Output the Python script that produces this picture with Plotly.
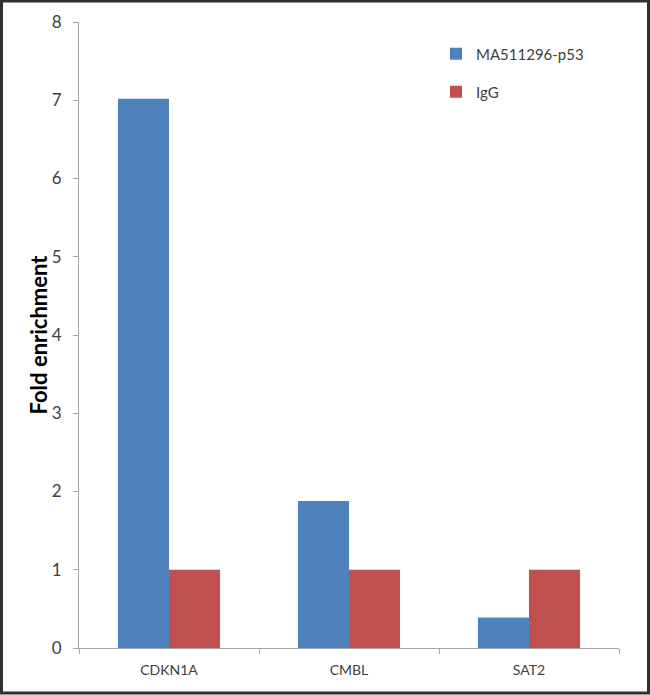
import plotly.graph_objects as go

categories = ["CDKN1A", "CMBL", "SAT2"]
p53_values = [7.02, 1.88, 0.39]
igg_values = [1.0, 1.0, 1.0]
series_names = ["MA511296-p53", "IgG"]
y_ticks = [0, 1, 2, 3, 4, 5, 6, 7, 8]

W, H = 650, 695
L, R, T, B = 79, 31, 22, 47
pw, ph = W - L - R, H - T - B

def px_x(x):
    return (x - L) / pw

def px_y(y):
    return (H - B - y) / ph

FONT = "Lato, 'Open Sans', sans-serif"
TXT = "#404040"

fig = go.Figure()
fig.add_trace(go.Bar(x=categories, y=p53_values, name=series_names[0], showlegend=True,
                     marker=dict(color="#4F81BD", line=dict(width=0)), legend="legend"))
fig.add_trace(go.Bar(x=categories, y=igg_values, name=series_names[1], showlegend=True,
                     marker=dict(color="#C0504D", line=dict(width=0)), legend="legend2"))

fig.update_layout(
    width=W, height=H,
    margin=dict(l=L, r=R, t=T, b=B, autoexpand=False),
    paper_bgcolor="white", plot_bgcolor="white",
    barmode="group", bargap=0.433, bargroupgap=0,
    showlegend=True,
    font=dict(family=FONT, color=TXT, size=15),
    legend=dict(x=px_x(436), y=px_y(54), xanchor="left", yanchor="middle",
                font=dict(size=15, color=TXT), bgcolor="rgba(0,0,0,0)", visible=True),
    legend2=dict(x=px_x(436), y=px_y(92), xanchor="left", yanchor="middle",
                 font=dict(size=15, color=TXT), bgcolor="rgba(0,0,0,0)", visible=True),
    xaxis=dict(showline=True, linecolor="#a6a6a6", linewidth=1,
               ticks="outside", ticklen=5, tickcolor="#a6a6a6", tickson="boundaries",
               showgrid=False, tickfont=dict(size=14, color=TXT), ticklabelstandoff=9),
    yaxis=dict(range=[0, 8], tickvals=y_ticks, showline=True, linecolor="#a6a6a6", linewidth=1,
               ticks="outside", ticklen=5, tickcolor="#a6a6a6", showgrid=False, zeroline=False,
               tickfont=dict(size=17, color=TXT), ticklabelstandoff=8),
    annotations=[dict(text="<b>Fold enrichment</b>", textangle=-90, x=px_x(22), y=0.5,
                      xref="paper", yref="paper", showarrow=False,
                      font=dict(size=22, color="black", family=FONT))],
    shapes=[dict(type="rect", xref="paper", yref="paper",
                 x0=px_x(1.5), x1=px_x(648.5), y0=px_y(693), y1=px_y(1),
                 line=dict(color="#303030", width=3), fillcolor="rgba(0,0,0,0)", layer="above")],
)

fig.write_html("out.html", config={"displayModeBar": False},
               post_script="document.body.style.margin='0';document.body.style.overflow='hidden';")
